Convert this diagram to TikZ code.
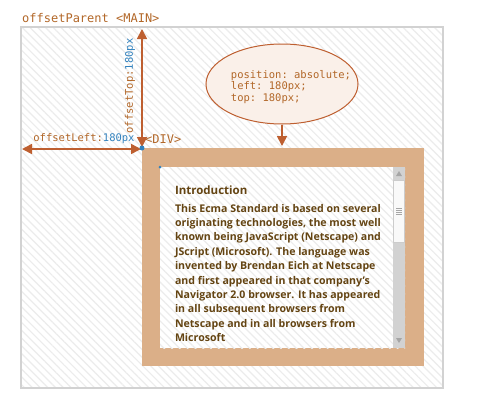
\documentclass[tikz,border=0pt]{standalone}
\usepackage{fontspec}
\setmainfont{Open Sans}
\setmonofont{DejaVu Sans Mono}
\usetikzlibrary{positioning,shapes.geometric,arrows.meta,patterns.meta}

\definecolor{tagbrown}{RGB}{178,103,40}
\definecolor{arrowbrown}{RGB}{190,95,48}
\definecolor{pxblue}{RGB}{50,130,190}
\definecolor{divtan}{RGB}{219,175,136}
\definecolor{notefill}{RGB}{250,240,233}
\definecolor{bodytext}{RGB}{100,68,18}
\definecolor{hatchgray}{RGB}{236,236,236}

\begin{document}
\begin{tikzpicture}[x=1pt,y=-1pt]
	\tikzset{hatched/.style={preaction={fill=white}, pattern={Lines[angle=-45,distance=5.5pt,line width=1.2pt]}, pattern color=hatchgray},
		box/.style={inner sep=0pt, outer sep=0pt, anchor=north west},
		mono/.style={font=\ttfamily\fontsize{12}{12}\selectfont, text=tagbrown, inner sep=0pt},
		small mono/.style={font=\ttfamily\fontsize{10.5}{11.6}\selectfont, text=tagbrown, inner sep=0pt},
		dim arrow/.style={draw=arrowbrown, line width=1.6pt, {Triangle[length=10pt,width=10pt]}-{Triangle[length=10pt,width=10pt]}},
		dot/.style={circle, fill=pxblue, inner sep=0pt, minimum size=#1}}
	\useasboundingbox (0,0) rectangle (483,402);
	% offsetParent
	\node[box, hatched, draw=gray!35, line width=2pt, minimum width=422, minimum height=361] (main) at (21,27) {};
	\node[mono, anchor=west] (maintag) at (22,18) {offsetParent <MAIN>};
	% the div
	\node[box, fill=divtan, minimum width=282, minimum height=218] (div) at (142,148) {};
	\node[box, hatched, minimum width=245, minimum height=181] (content) at (160,167) {};
	\node[box, anchor=north east, fill=gray!35, minimum width=12, minimum height=181] (scroll) at (content.north east) {};
	\node[box, fill=gray!5, draw=gray!40, line width=0.5pt, minimum width=11, minimum height=62] (thumb) at (393.5,180) {};
	\foreach \y in {0,2,4,6}
		\draw[gray!70, line width=0.8pt] ([xshift=-3pt,yshift=-\y pt+3pt]thumb.center) -- ++(6,0);
	\fill[gray!70] (396,176) -- (402,176) -- (399,171) -- cycle;
	\fill[gray!70] (396,338) -- (402,338) -- (399,343) -- cycle;
	\node[box, text=bodytext, font=\fontsize{11.5}{14.5}\selectfont\bfseries, anchor=base west] (title) at (175,194) {Introduction};
	\node[box, text=bodytext, font=\fontsize{10.6}{14.4}\selectfont\bfseries, align=left] (body) at (175,204)
		{This Ecma Standard is based on several\\
		 originating technologies, the most well\\
		 known being JavaScript (Netscape) and\\
		 JScript (Microsoft). The language was\\
		 invented by Brendan Eich at Netscape\\
		 and first appeared in that company’s\\
		 Navigator 2.0 browser. It has appeared\\
		 in all subsequent browsers from\\
		 Netscape and in all browsers from\\
		 Microsoft};
	\node[mono, anchor=west] (divtag) at (145,139) {<DIV>};
	% offsets
	\coordinate (toptip) at (142,29);
	\coordinate (lefttip) at (22,149);
	\draw[dim arrow, shorten >=1pt] (toptip) -- (div.north west);
	\draw[dim arrow, shorten >=1pt] (lefttip) -- (div.north west |- lefttip);
	\node[small mono] (leftlabel) at (84,139) {offsetLeft:\textcolor{pxblue}{180px}};
	\node[small mono, rotate=90] (toplabel) at (130,86) {offsetTop:\textcolor{pxblue}{180px}};
	\node[dot=5pt] (corner) at (div.north west) {};
	\node[dot=3pt] (inner) at (content.north west) {};
	% css note
	\node[ellipse, draw=arrowbrown, fill=notefill, line width=1pt, minimum width=152, minimum height=80] (note) at (282,84) {};
	\node[small mono, align=left] (notetext) at (291,87) {position: absolute;\\left: 180px;\\top: 180px;};
	\coordinate (divtop) at (div.north -| note.south);
	\draw[draw=arrowbrown, line width=1.6pt, -{Triangle[length=10pt,width=10pt]}, shorten >=2pt] (note.south) -- (divtop);
\end{tikzpicture}
\end{document}
